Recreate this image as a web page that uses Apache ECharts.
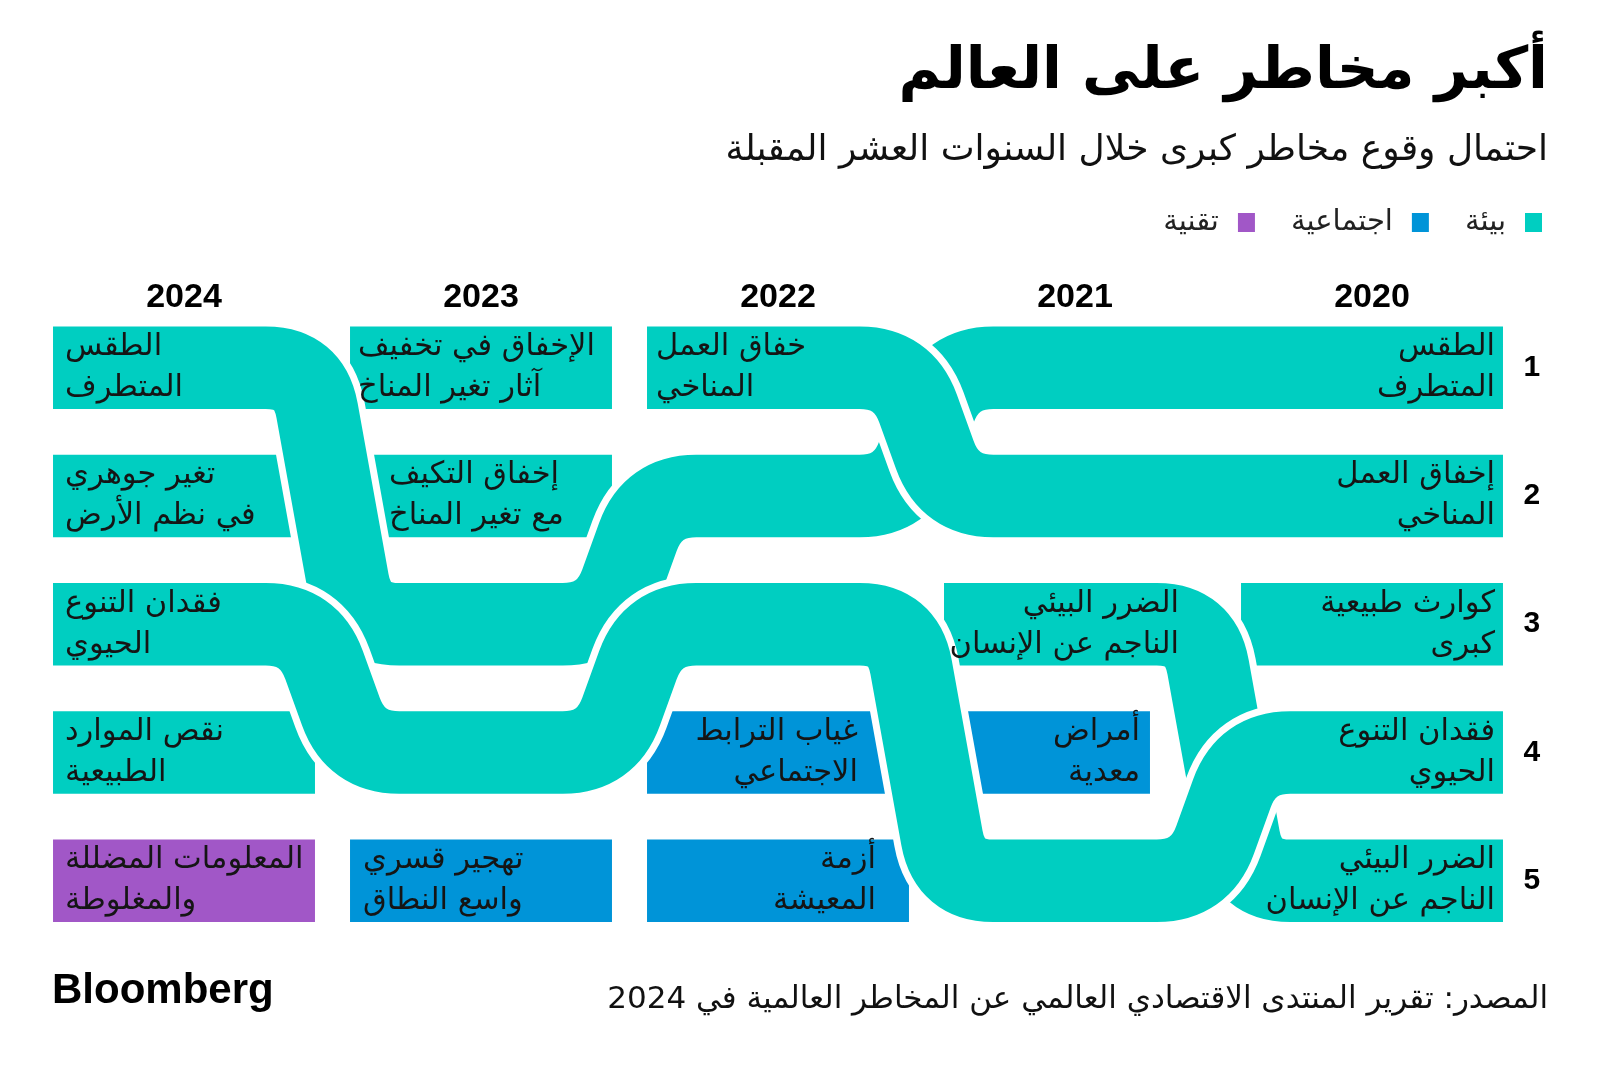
<!DOCTYPE html>
<html>
<head>
<meta charset="utf-8">
<script src="https://cdn.jsdelivr.net/npm/echarts@6/dist/echarts.min.js"></script>
<style>
html,body{margin:0;padding:0;background:#fff;}
#chart{width:1600px;height:1069px;}
</style>
</head>
<body>
<div id="chart"></div>
<script>
// ---------- DATA ----------
const years = ['2020', '2021', '2022', '2023', '2024'];
const ranks = ['1', '2', '3', '4', '5'];

// Rank of each recurring risk per year (2020..2024); null = not in top 5
const extremeWeatherRank = [1, 1, 2, 3, 1];
const climateActionRank  = [2, 2, 1, null, null];
const humanDamageRank    = [5, 3, null, null, null];
const biodiversityRank   = [4, 5, 3, 4, 3];

// One-off boxes: [year, rank]
const envBoxes    = [['2020', 3], ['2023', 1], ['2023', 2], ['2024', 2], ['2024', 4]];
const socialBoxes = [['2021', 4], ['2022', 4], ['2022', 5], ['2023', 5]];
const techBoxes   = [['2024', 5]];

// Cell labels: [year, rank, text]
const cellLabels = [
  ['2020', 1, 'الطقس\nالمتطرف'],
  ['2020', 2, 'إخفاق العمل\nالمناخي'],
  ['2020', 3, 'كوارث طبيعية\nكبرى'],
  ['2020', 4, 'فقدان التنوع\nالحيوي'],
  ['2020', 5, 'الضرر البيئي\nالناجم عن الإنسان'],
  ['2021', 3, 'الضرر البيئي\nالناجم عن الإنسان'],
  ['2021', 4, 'أمراض\nمعدية'],
  ['2022', 1, 'خفاق العمل\nالمناخي'],
  ['2022', 4, 'غياب الترابط\nالاجتماعي'],
  ['2022', 5, 'أزمة\nالمعيشة'],
  ['2023', 1, 'الإخفاق في تخفيف\nآثار تغير المناخ'],
  ['2023', 2, 'إخفاق التكيف\nمع تغير المناخ'],
  ['2023', 5, 'تهجير قسري\nواسع النطاق'],
  ['2024', 1, 'الطقس\nالمتطرف'],
  ['2024', 2, 'تغير جوهري\nفي نظم الأرض'],
  ['2024', 3, 'فقدان التنوع\nالحيوي'],
  ['2024', 4, 'نقص الموارد\nالطبيعية'],
  ['2024', 5, 'المعلومات المضللة\nوالمغلوطة']
];

// ---------- STYLE ----------
const TEAL = '#00CEC1', BLUE = '#0094D8', PURPLE = '#A157C7';
const FONT = "'DejaVu Sans', sans-serif";
const NUMFONT = "'Liberation Sans', Arial, sans-serif";
const BOX_W = 0.882, BOX_H = 0.643;     // fraction of band
const GAP = 7;                           // white outline
const boxRightInset = { '2021-4': 56 };  // px trimmed from box right edge
const labelAlign = {
  '2020': 'right', '2021': 'right', '2023': 'left', '2024': 'left',
  '2022-1': 'left', '2022-4': 'right', '2022-5': 'right'
};
const labelPad = {
  '2023-2': 39, '2023-5': 13, '2022-4': 51, '2022-5': 33, '2021-3': 27, '2021-4': 66,
  '2024': 12, '2023': 8, '2022': 9, '2020': 8
};

const ribbons = [humanDamageRank, extremeWeatherRank, climateActionRank, biodiversityRank];

function roundedPath(pts, d) {
  let s = 'M' + pts[0][0] + ' ' + pts[0][1];
  for (let i = 1; i < pts.length - 1; i++) {
    const p0 = pts[i - 1], p = pts[i], p1 = pts[i + 1];
    const l0 = Math.hypot(p0[0] - p[0], p0[1] - p[1]);
    const l1 = Math.hypot(p1[0] - p[0], p1[1] - p[1]);
    const c0 = Math.min(d, l0 / 2), c1 = Math.min(d, l1 / 2);
    const a = [p[0] + (p0[0] - p[0]) * c0 / l0, p[1] + (p0[1] - p[1]) * c0 / l0];
    const b = [p[0] + (p1[0] - p[0]) * c1 / l1, p[1] + (p1[1] - p[1]) * c1 / l1];
    s += ' L' + a[0] + ' ' + a[1] + ' Q' + p[0] + ' ' + p[1] + ' ' + b[0] + ' ' + b[1];
  }
  const e = pts[pts.length - 1];
  s += ' L' + e[0] + ' ' + e[1];
  return s;
}

function renderRibbon(params, api) {
  const r = ribbons[params.dataIndex];
  const band = api.size([1, 1]);
  const bw = band[0] * BOX_W, bh = band[1] * BOX_H;
  const dx = band[0] * 0.078, d = band[1] * 0.34;
  const idx = [];
  r.forEach((v, i) => { if (v != null) idx.push(i); });
  const c = idx.map(i => api.coord([i, r[i] - 1]));
  const sgn = Math.sign(c[c.length - 1][0] - c[0][0]) || -1;
  const pts = [[c[0][0] - sgn * bw / 2, c[0][1]]];
  for (let k = 0; k < c.length - 1; k++) {
    if (c[k][1] !== c[k + 1][1]) {
      const xm = (c[k][0] + c[k + 1][0]) / 2;
      pts.push([xm - sgn * dx, c[k][1]]);
      pts.push([xm + sgn * dx, c[k + 1][1]]);
    }
  }
  const last = c[c.length - 1];
  pts.push([last[0] + sgn * bw / 2, last[1]]);
  const pd = roundedPath(pts, d);
  return {
    type: 'group',
    children: [
      { type: 'path', shape: { pathData: pd }, style: { fill: 'none', stroke: '#fff', lineWidth: bh + 2 * GAP, lineCap: 'butt' } },
      { type: 'path', shape: { pathData: pd }, style: { fill: 'none', stroke: TEAL, lineWidth: bh, lineCap: 'butt' } }
    ]
  };
}

function renderBox(color) {
  return function (params, api) {
    const xi = api.value(0), yi = api.value(1);
    const p = api.coord([xi, yi]);
    const band = api.size([1, 1]);
    const bw = band[0] * BOX_W, bh = band[1] * BOX_H;
    const inset = boxRightInset[years[xi] + '-' + (yi + 1)] || 0;
    return { type: 'rect', shape: { x: p[0] - bw / 2, y: p[1] - bh / 2, width: bw - inset, height: bh }, style: { fill: color } };
  };
}

function renderLabel(params, api) {
  const item = cellLabels[params.dataIndex];
  const p = api.coord([api.value(0), api.value(1)]);
  const band = api.size([1, 1]);
  const bw = band[0] * BOX_W;
  const key = item[0] + '-' + item[1];
  const align = labelAlign[key] || labelAlign[item[0]];
  const pad = labelPad[key] != null ? labelPad[key] : labelPad[item[0]];
  const x = align === 'left' ? p[0] - bw / 2 + pad : p[0] + bw / 2 - pad;
  return {
    type: 'text', x: x, y: p[1],
    style: { text: item[2], fill: '#151515', fontSize: 30.5, fontFamily: FONT, align: align, verticalAlign: 'middle', lineHeight: 41 }
  };
}

const toXY = b => [years.indexOf(b[0]), b[1] - 1];

const chart = echarts.init(document.getElementById('chart'), null, { renderer: 'canvas' });
chart.setOption({
  animation: false,
  backgroundColor: '#fff',
  title: [
    { text: 'أكبر مخاطر على العالم', right: 47, top: 39, textStyle: { fontSize: 58, fontWeight: 'bold', fontFamily: FONT, color: '#000' } },
    { text: 'احتمال وقوع مخاطر كبرى خلال السنوات العشر المقبلة', right: 47, top: 128, textStyle: { fontSize: 36, fontWeight: 'normal', fontFamily: FONT, color: '#111' } },
    { text: 'المصدر: تقرير المنتدى الاقتصادي العالمي عن المخاطر العالمية في 2024', right: 47, top: 979, textStyle: { fontSize: 31, fontWeight: 'normal', fontFamily: FONT, color: '#111' } },
    { text: 'Bloomberg', left: 47, top: 965, textStyle: { fontSize: 42, fontWeight: 'bold', fontFamily: NUMFONT, color: '#000' } }
  ],
  legend: {
    data: ['تقنية', 'اجتماعية', 'بيئة'],
    right: 53, top: 203, icon: 'rect', itemWidth: 17, itemHeight: 19, itemGap: 36, align: 'right',
    selectedMode: false,
    textStyle: { fontSize: 29, fontFamily: FONT, color: '#222', padding: [0, 14, 0, 0] }
  },
  grid: { left: 35.5, right: 79.5, top: 303.6, bottom: 124.15 },
  xAxis: {
    type: 'category', data: years, inverse: true, position: 'top',
    axisLine: { show: false }, axisTick: { show: false }, splitLine: { show: false },
    axisLabel: { margin: 6, verticalAlign: 'middle', fontSize: 34, fontWeight: 'bold', fontFamily: NUMFONT, color: '#000' }
  },
  yAxis: {
    type: 'category', data: ranks, inverse: true, position: 'right',
    axisLine: { show: false }, axisTick: { show: false }, splitLine: { show: false },
    axisLabel: { margin: 3, fontSize: 30, fontWeight: 'bold', fontFamily: NUMFONT, color: '#000' }
  },
  series: [
    { name: 'بيئة', type: 'custom', itemStyle: { color: TEAL }, z: 1, clip: false, renderItem: renderBox(TEAL), encode: { x: 0, y: 1 }, data: envBoxes.map(toXY) },
    { name: 'اجتماعية', type: 'custom', itemStyle: { color: BLUE }, z: 1, clip: false, renderItem: renderBox(BLUE), encode: { x: 0, y: 1 }, data: socialBoxes.map(toXY) },
    { name: 'تقنية', type: 'custom', itemStyle: { color: PURPLE }, z: 1, clip: false, renderItem: renderBox(PURPLE), encode: { x: 0, y: 1 }, data: techBoxes.map(toXY) },
    { name: 'ribbons', type: 'custom', z: 2, clip: false, renderItem: renderRibbon, encode: { x: 0, y: 1 }, data: ribbons.map(() => [0, 0]) },
    { name: 'labels', type: 'custom', z: 3, clip: false, silent: true, renderItem: renderLabel, encode: { x: 0, y: 1 }, data: cellLabels.map(toXY) }
  ]
});
</script>
</body>
</html>
